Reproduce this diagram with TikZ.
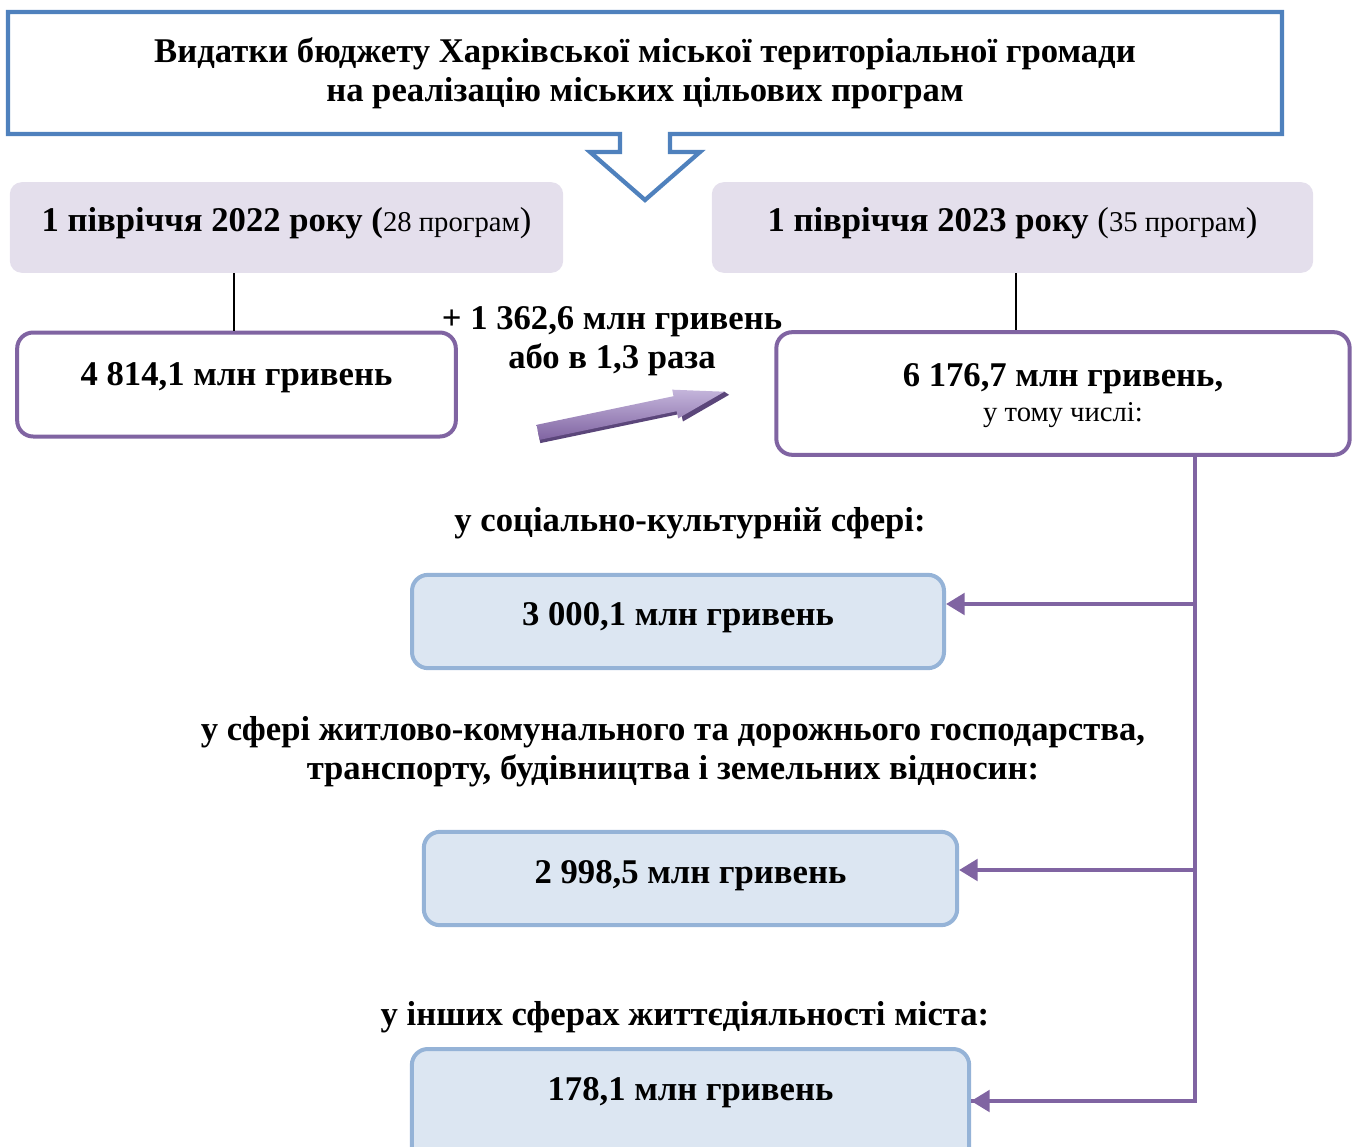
\documentclass[tikz,border=0pt]{standalone}
\usepackage{fontspec}
\setmainfont{Liberation Serif}
\usetikzlibrary{arrows.meta,calc}
\definecolor{titleblue}{HTML}{4F81BD}
\definecolor{boxpurple}{HTML}{8064A2}
\definecolor{darkpurple}{HTML}{5B467A}
\definecolor{lightpurple}{HTML}{C4B5DB}
\definecolor{greyfill}{HTML}{E4DFEC}
\definecolor{bluefill}{HTML}{DCE6F2}
\definecolor{bluestroke}{HTML}{95B3D7}
\newcommand{\bigfnt}{\fontsize{26}{29}\selectfont}
\newcommand{\smallfnt}{\fontsize{21.5}{25}\selectfont}
\tikzset{
  headbox/.style={fill=greyfill, rounded corners=9pt, minimum width=415pt, minimum height=68pt, inner sep=0pt},
  valbox/.style={draw=boxpurple, line width=3pt, fill=white, rounded corners=12pt, inner sep=0pt},
  subbox/.style={draw=bluestroke, line width=3pt, fill=bluefill, rounded corners=12pt, inner sep=0pt},
  txt/.style={font=\bigfnt\bfseries, align=center, inner sep=0pt},
  plink/.style={draw=boxpurple, line width=3.2pt},
  parrow/.style={draw=boxpurple, line width=3.2pt, -{Triangle[length=14pt,width=16pt]}},
}
\begin{document}
\begin{tikzpicture}[x=0.75pt,y=-0.75pt]
\useasboundingbox (0,0) rectangle (1360,1146);
% title box with chevron arrow
\draw[titleblue, line width=3.2pt, fill=white]
  (8,12) -- (1282,12) -- (1282,134) -- (670,134) -- (670,152) -- (700,152)
  -- (645,200) -- (590,152) -- (620,152) -- (620,134) -- (8,134) -- cycle;
\node[txt] (title) at (645,73) {Видатки бюджету Харківської міської територіальної громади\\на реалізацію міських цільових програм};
% period boxes
\node[headbox] (g1) at (286.5,227.5) {};
\node[txt, anchor=base] (g1t) at (286.5,231) {1 півріччя 2022 року (\mdseries\smallfnt 28 програм\bigfnt)};
\node[headbox, minimum width=451pt] (g2) at (1012.5,227.5) {};
\node[txt, anchor=base] (g2t) at (1012.5,231) {1 півріччя 2023 року \mdseries(\smallfnt 35 програм\bigfnt)};
% value boxes
\node[valbox, minimum width=329pt, minimum height=78pt] (v1) at (236.5,384.5) {};
\node[txt] (v1t) at (236.5,378) {4 814,1 млн гривень};
\node[valbox, minimum width=430pt, minimum height=92pt] (v2) at (1063,393.5) {};
\node[txt] (v2t) at (1063,379) {6 176,7 млн гривень,};
\node[font=\smallfnt, inner sep=0pt] (v2s) at (1063,415) {у тому числі:};
\coordinate (c1) at (234,300);
\coordinate (c2) at (1016,300);
\draw[black, line width=0.8pt] (g1.south -| c1) -- (v1.north -| c1);
\draw[black, line width=0.8pt] (g2.south -| c2) -- (v2.north -| c2);
% growth label
\node[txt] (grow) at (612,341) {+ 1 362,6 млн гривень\\або в 1,3 раза};
% 3D arrow
\begin{scope}[shift={(538,432)}, rotate=11.8]
  \fill[darkpurple] (0pt,-8.5pt) -- (108pt,-8.5pt) -- (108pt,-14.5pt) -- (146pt,-2pt) -- (143pt,1pt) -- (0pt,1pt) -- cycle;
  \shade[top color=lightpurple, bottom color=boxpurple] (0pt,-6pt) -- (105pt,-6pt) -- (105pt,-11.5pt) -- (143pt,1pt) -- (105pt,10.5pt) -- (105pt,5.5pt) -- (0pt,5.5pt) -- cycle;
\end{scope}
% category labels and boxes
\node[txt] (l1) at (690,523) {у соціально-культурній сфері:};
\node[subbox, minimum width=399pt, minimum height=70pt] (b1) at (678,621.5) {};
\node[txt] (b1t) at (678,618) {3 000,1 млн гривень};
\node[txt] (l2) at (673,752) {у сфері житлово-комунального та дорожнього господарства,\\транспорту, будівництва і земельних відносин:};
\node[subbox, minimum width=400pt, minimum height=70pt] (b2) at (690.5,878.5) {};
\node[txt] (b2t) at (690.5,876) {2 998,5 млн гривень};
\node[txt] (l3) at (685,1017) {у інших сферах життєдіяльності міста:};
\node[subbox, minimum width=418pt, minimum height=90pt] (b3) at (690.5,1109) {};
\node[txt] (b3t) at (690.5,1093) {178,1 млн гривень};
% trunk and branches
\coordinate (tx) at (1195,500);
\coordinate (e1) at (946,604);
\coordinate (e2) at (959,870);
\coordinate (e3) at (971,1101);
\draw[plink] (v2.south -| tx) -- (tx |- e3) -- (e3);
\draw[parrow] (tx |- e3) -- (e3);
\draw[parrow] (tx |- e1) -- (e1);
\draw[parrow] (tx |- e2) -- (e2);
\end{tikzpicture}
\end{document}
